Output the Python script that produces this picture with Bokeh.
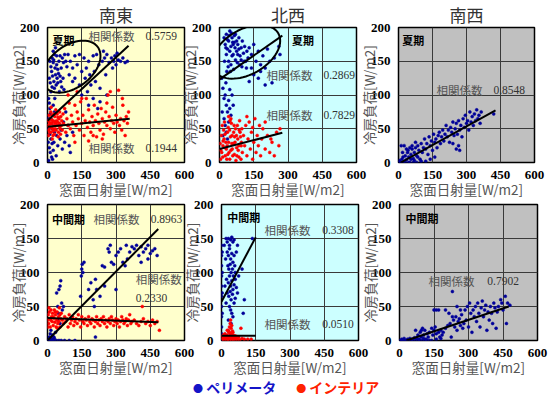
import math
from bokeh.plotting import figure
from bokeh.layouts import column, row
from bokeh.models import Div, FixedTicker, Range1d
from bokeh.core.properties import value
from bokeh.embed import file_html
from bokeh.resources import INLINE

# ---------------- data ----------------
titles = ["南東", "北西", "南西"]
seasons = ["夏期", "中間期"]
x_ticks = [0, 150, 300, 450, 600]
y_ticks = [0, 50, 100, 150, 200]
x_label = "窓面日射量[W/m2]"
y_label = "冷房負荷[W/m2]"
corr_label = "相関係数"
legend_labels = ["ペリメータ", "インテリア"]

# 南東 夏期
se_summer_peri = [
    (10,150),(15,142),(20,155),(25,148),(30,160),(18,135),(22,128),(28,120),(35,130),(40,145),
    (45,138),(12,118),(30,110),(38,115),(42,125),(50,150),(55,158),(48,132),(60,140),(65,155),
    (70,148),(75,160),(80,150),(85,142),(90,160),(58,120),(62,112),(68,125),(72,108),(25,165),
    (35,170),(40,158),(52,105),(15,105),(8,125),(20,112),(45,118),(33,140),(27,152),(55,128),
    (100,150),(110,140),(120,158),(130,145),(140,160),(150,135),(160,155),(165,125),(170,140),
    (180,150),(190,115),(200,158),(205,135),(210,120),(215,160),(225,145),(230,110),(240,150),
    (250,155),(255,130),(260,160),(270,148),(280,155),(290,150),(295,158),(300,145),(305,162),
    (310,152),(320,150),(330,155),(340,148),(350,150),(285,140),(245,165),(185,130),(120,125),
    (95,130),(150,100),(175,105),(200,95),(230,90),(260,100),(220,80),(180,85),(140,115),(110,120),
    (5,95),(8,88),(10,80),(12,72),(15,65),(18,58),(5,50),(10,42),(15,35),(20,28),(8,22),(12,15),
    (18,8),(5,3),(22,5),(25,18),(28,30),(30,45),(20,50),(25,85),(30,75),(35,60),(32,95),(40,40),
    (45,25),(38,10),(50,55),(55,35),(60,48),(65,20),(75,30),(85,40),(95,25),(100,15),(70,60),
    (80,75),(90,55),(110,45),(3,30),(3,65)]
se_summer_inter = [
    (2,55),(5,48),(8,60),(10,52),(12,65),(15,45),(18,58),(20,70),(22,50),(25,62),(28,55),(30,42),
    (32,68),(35,58),(38,48),(40,62),(42,72),(45,55),(48,45),(50,65),(52,58),(55,50),(58,68),(60,55),
    (3,62),(6,70),(9,45),(14,75),(17,52),(24,40),(27,72),(33,50),(36,78),(44,60),(47,38),(53,75),
    (57,42),(62,62),(65,48),(68,72),(4,40),(11,57),(19,63),(26,47),(31,60),(39,55),(46,67),(54,53),
    (16,82),(21,35),
    (70,58),(75,80),(80,45),(85,65),(90,55),(95,88),(100,50),(105,70),(110,60),(115,40),(120,85),
    (125,55),(130,75),(135,65),(140,48),(145,90),(150,58),(155,70),(160,40),(165,62),(170,95),
    (175,52),(180,78),(185,60),(190,45),(195,68),(200,55),(205,85),(210,62),(215,38),(220,72),
    (225,58),(230,48),(235,80),(240,65),(245,42),(250,60),(255,75),(260,55),(265,100),(270,68),
    (275,50),(280,62),(285,82),(290,58),(295,45),(300,70),(305,60),(311,107),(315,55),(320,65),
    (325,48),(328,95),(335,62),(340,40),(345,68),(350,58),(355,75),(275,105),(260,88),(150,95),
    (120,30),(180,32),(240,35),(90,100),(130,105),(200,40),(330,85)]

# 北西 夏期
nw_summer_peri = [
    (20,185),(25,175),(30,190),(35,168),(40,180),(45,195),(50,172),(55,185),(60,160),(65,178),
    (70,190),(75,165),(80,175),(85,185),(90,158),(95,170),(100,180),(105,162),(110,172),(115,150),
    (120,165),(125,155),(30,160),(40,150),(50,145),(60,175),(70,152),(80,160),(45,165),(55,158),
    (35,182),(65,188),(75,180),(85,168),(95,152),(28,170),(42,188),(58,178),(68,170),(78,148),
    (88,145),(98,142),(108,150),(118,140),(38,142),(48,135),(62,138),(22,150),(32,135),(52,192),
    (130,170),(140,160),(150,175),(160,150),(170,165),(180,145),(190,158),(200,140),(210,168),
    (220,150),(240,155),(260,172),(265,160),(150,130),(170,125),(200,115),(230,118),(180,135),
    (140,140),(130,120),
    (10,125),(15,110),(20,95),(25,100),(30,85),(35,75),(40,92),(45,80),(50,70),(20,65),(25,55),
    (30,45),(35,35),(15,40),(40,60),(55,100),(60,85),(12,75),(28,118),(45,108)]
nw_summer_inter = [
    (5,5),(10,15),(15,25),(20,35),(25,10),(30,20),(35,45),(40,30),(45,5),(50,18),(55,40),(60,28),
    (65,12),(70,50),(75,22),(80,35),(85,8),(90,45),(95,25),(100,15),(8,40),(12,55),(18,48),(22,60),
    (28,30),(32,5),(38,52),(42,15),(48,38),(52,58),(58,10),(62,45),(68,30),(72,3),(78,55),(82,18),
    (88,62),(92,38),(98,50),(3,28),(6,18),(14,8),(24,42),(34,25),(44,48),(54,28),(64,55),(74,40),
    (84,25),(94,5),(16,32),(26,22),(36,12),(46,62),(56,20),(66,38),(76,10),(86,48),(96,30),(40,68),
    (50,65),
    (105,40),(110,25),(115,55),(120,10),(125,35),(130,60),(135,20),(140,45),(145,5),(150,30),
    (155,65),(160,15),(165,40),(170,25),(175,55),(180,10),(185,35),(190,50),(200,20),(210,40),
    (220,15),(230,30),(240,10),(250,45),(260,25),(265,50),(200,60),(120,68),(145,52),(225,35)]

# 南西 夏期
sw_summer_peri = [
    (0,0),(5,3),(10,0),(15,5),(20,8),(25,2),(30,10),(35,4),(40,15),(45,8),(50,0),(55,12),(60,20),
    (65,6),(70,15),(75,22),(80,10),(85,25),(90,18),(95,5),(100,28),(105,15),(110,22),(115,35),
    (120,20),(125,28),(130,12),(135,38),(140,25),(145,32),(150,18),(155,42),(160,30),(165,35),
    (170,22),(175,40),(180,45),(185,28),(190,38),(195,48),(200,32),(205,42),(210,55),(215,38),
    (220,48),(225,30),(230,52),(235,45),(240,60),(245,40),(250,50),(255,58),(260,42),(265,62),
    (270,48),(275,55),(280,38),(285,65),(290,52),(295,70),(300,58),(305,62),(310,48),(315,75),
    (320,60),(325,68),(330,55),(335,72),(340,62),(345,78),(350,65),(355,70),(360,58),(365,75),
    (420,72),(255,20),(265,25),(270,18),(240,28),(12,25),(25,25),(35,20),(50,22),(60,25),(75,30),
    (18,15),(42,18),(55,5),(70,3),(85,8),(100,2),(120,2),(140,5),(160,8),(30,0),(45,0),(65,0),(80,0)]

# 南東 中間期
se_mid_peri = [
    (0,0),(5,0),(10,0),(15,0),(20,0),(25,0),(30,0),(40,0),(50,0),(60,0),(75,0),(95,0),(120,0),
    (8,5),(12,10),(18,3),(22,8),(28,5),(35,12),(15,15),(30,3),
    (45,50),(50,75),(55,80),(58,88),(40,70),(62,55),(48,40),(65,45),(70,50),(45,30),(55,25),
    (145,65),(150,105),(152,112),(155,100),(160,115),(148,95),
    (180,75),(190,85),(200,60),(210,90),(215,75),(205,50),(210,5),(230,65),(250,80),
    (240,110),(250,108),(265,135),(270,130),(280,115),(290,112),(300,75),(300,125),(310,130),
    (320,135),(330,115),(340,110),(350,120),(360,130),(370,138),(380,135),(390,140),(400,125),
    (410,138),(420,130),(430,135),(440,140),(450,128),(460,132),(470,135),(480,125),(440,120),
    (410,115),(345,140),(275,140)]
se_mid_inter = [
    (0,30),(3,38),(5,25),(8,42),(10,32),(12,20),(15,45),(18,35),(20,28),(22,40),(25,22),(28,33),
    (30,45),(32,27),(35,38),(38,20),(40,30),(42,42),(45,25),(48,35),(50,28),(52,48),(55,20),(58,32),
    (60,40),(2,20),(6,48),(14,30),(24,35),(34,42),(44,18),(54,38),
    (65,30),(70,25),(75,35),(80,28),(85,32),(90,20),(95,38),(100,25),(105,30),(110,35),(115,22),
    (120,28),(125,32),(130,25),(135,38),(140,30),(145,20),(150,35),(155,28),(160,25),(165,32),
    (170,30),(175,22),(180,35),(185,28),(190,25),(195,32),(200,30),(205,20),(210,28),(215,35),
    (220,25),(225,30),(230,22),(235,32),(240,28),(245,35),(250,25),(255,30),(260,20),(265,28),
    (270,32),(275,25),(280,35),(285,30),(290,22),(295,28),(300,32),(305,25),(310,30),(315,20),
    (320,28),(325,35),(330,30),(335,25),(340,28),(345,32),(350,22),(355,30),(360,38),(365,25),
    (370,28),(380,30),(390,25),(400,22),(410,28),(415,50),(420,32),(430,25),(440,28),(450,22),
    (460,30),(470,25),(480,28),(490,15)]

# 北西 中間期
nw_mid_peri = [
    (0,140),(0,125),(0,110),(0,95),(0,80),(0,65),(0,50),(0,35),(0,20),(0,10),(0,0),(3,130),(3,100),
    (3,70),(3,40),(20,150),(25,145),(30,150),(35,140),(40,148),(45,152),(50,145),(25,130),(30,125),
    (35,135),(40,120),(45,128),(50,115),(55,125),(28,110),(32,105),(38,112),(42,100),(48,105),
    (52,95),(58,110),(22,90),(30,85),(35,95),(40,80),(45,88),(50,75),(55,82),(60,90),(65,78),
    (25,70),(32,65),(38,72),(42,60),(48,68),(55,55),(60,62),(70,70),(35,50),(40,45),(45,40),
    (50,35),(30,30),(42,25),(18,120),(15,80),(20,55),(60,100),(65,130),(75,95),(90,105),(95,40),
    (135,150),(100,60),(12,140),(55,148),(70,140)]
nw_mid_inter = [
    (0,5),(5,2),(8,8),(10,0),(12,4),(15,10),(18,3),(20,6),(22,0),(25,8),(28,2),(30,5),(32,12),
    (35,0),(38,6),(40,3),(42,9),(45,1),(48,5),(50,8),(52,2),(55,4),(58,7),(60,0),(62,3),(65,6),
    (70,2),(75,5),(80,1),(90,3),(100,2),(30,15),(35,20),(38,25),(40,30),(42,18),(45,22),(48,14),
    (35,12),(40,10),(85,18),(115,2),(130,2),(25,15),(50,12)]

# 南西 中間期
sw_mid_peri = [
    (0,0),(5,0),(10,0),(15,0),(20,0),(25,0),(30,0),(40,0),(50,0),(60,0),(70,0),(80,0),(90,0),
    (100,0),(110,0),(120,0),(130,0),(140,0),(10,2),(20,3),(35,2),(45,3),(55,2),(65,4),(75,3),
    (85,2),(95,5),(105,3),(115,2),(125,5),(160,2),(180,3),
    (70,15),(80,8),(90,12),(95,15),(100,18),(105,8),(110,15),(120,10),(130,12),(140,18),(145,8),
    (150,15),(155,20),(160,10),(170,12),(175,5),(180,15),(185,8),(190,12),(200,18),(210,22),
    (220,25),(225,5),(235,30),(240,20),(245,35),(250,15),(255,28),(260,32),(265,22),(270,38),
    (275,18),(280,25),(285,45),(290,30),(295,50),(300,20),(305,55),(310,40),(315,12),(320,45),
    (325,35),(330,50),(335,28),(340,55),(345,40),(350,20),(355,48),(360,58),(365,35),(370,45),
    (375,52),(380,15),(385,42),(390,30),(395,50),(400,40),(405,25),(410,55),(415,48),(420,18),
    (425,42),(430,50),(440,60),(445,55),(450,45),(460,65),(465,25),(470,55),(480,52),
    (150,45),(160,45),(170,45),(230,72),(200,45),(215,40),(230,35),(265,45),(250,50)]

# regression lines: [x_start, x_end, intercept, slope]
fit_se_summer_peri = [0, 355, 62.0, 0.313]
fit_se_summer_inter = [0, 360, 53.0, 0.0333]
fit_nw_summer_peri = [0, 275, 123.0, 0.236]
fit_nw_summer_inter = [0, 275, 20.0, 0.0873]
fit_sw_summer_peri = [10, 428, -1.9, 0.185]
fit_se_mid_peri = [0, 485, 0.0, 0.338]
fit_se_mid_inter = [0, 485, 33.0, -0.0124]
fit_nw_mid_peri = [0, 150, 57.0, 0.633]
fit_nw_mid_inter = [0, 150, 7.0, 0.0]
fit_sw_mid_peri = [30, 475, -3.4, 0.1124]

# correlation coefficients
corr_se_summer = ["0.5759", "0.1944"]
corr_nw_summer = ["0.2869", "0.7829"]
corr_sw_summer = ["0.8548"]
corr_se_mid = ["0.8963", "0.2330"]
corr_nw_mid = ["0.3308", "0.0510"]
corr_sw_mid = ["0.7902"]

# ---------------- styling ----------------
BLUE = "#000099"
RED = "#FF0000"
YELLOW = "#FFFFCC"
CYAN = "#CCFFFF"
GRAY = "#C0C0C0"
JP = "Noto Sans CJK JP"
BL = 64  # left border of every figure


def make_panel(bg, fw, fh, title=None, right=16):
    p = figure(frame_width=fw, frame_height=fh, x_range=Range1d(0, 600), y_range=Range1d(0, 200),
               output_backend="svg", toolbar_location=None, title=title,
               min_border_left=BL, min_border_right=right, min_border_top=30, min_border_bottom=44)
    p.background_fill_color = bg
    p.border_fill_color = None
    p.outline_line_color = "black"
    p.outline_line_width = 1.5
    p.xaxis.ticker = FixedTicker(ticks=x_ticks)
    p.yaxis.ticker = FixedTicker(ticks=y_ticks)
    p.xgrid.ticker = FixedTicker(ticks=x_ticks)
    p.ygrid.ticker = FixedTicker(ticks=y_ticks)
    p.grid.grid_line_color = "#3a3a3a"
    p.grid.grid_line_width = 1
    p.xaxis.axis_label = x_label
    p.yaxis.axis_label = y_label
    for ax in (p.xaxis[0], p.yaxis[0]):
        ax.major_label_text_font = "Liberation Serif"
        ax.major_label_text_font_style = "bold"
        ax.major_label_text_font_size = "13px"
        ax.major_label_text_color = "black"
        ax.axis_label_text_font = JP
        ax.axis_label_text_font_style = "normal"
        ax.axis_label_text_font_size = "13.5px"
        ax.axis_label_text_color = "#555555"
        ax.axis_line_color = None
        ax.major_tick_line_color = None
        ax.minor_tick_line_color = None
        ax.major_label_standoff = 2
    p.yaxis.axis_label_standoff = -11
    p.xaxis.axis_label_standoff = -3
    if title:
        p.title.text_font = JP
        p.title.text_font_size = "17px"
        p.title.text_font_style = "normal"
        p.title.text_color = "#333333"
        p.title.align = "center"
        p.title.standoff = 2
    return p


def add_points(p, pts, color):
    p.scatter(x=[a for a, b in pts], y=[b for a, b in pts], marker="circle", size=3.0,
              fill_color=color, line_color=color, line_width=0.5)


def add_fit(p, fit):
    x0, x1, b, m = fit
    p.line(x=[x0, x1], y=[b + m * x0, b + m * x1], line_color="black", line_width=2)


def add_season(p, text, x, y):
    p.text(x=[x], y=[y], text=[text], text_font=value(JP), text_font_style="bold",
           text_font_size="11px", text_color="black", text_baseline="middle", text_align="left")


def add_corr(p, x_lab, x_val, y, val):
    p.text(x=[x_lab], y=[y], text=[corr_label], text_font=value(JP), text_font_size="11.5px",
           text_color="#555555", text_baseline="middle", text_align="left")
    p.text(x=[x_val], y=[y], text=[val], text_font=value("Liberation Serif"), text_font_size="11.5px",
           text_color="#333333", text_baseline="middle", text_align="left")


def add_ellipse(p, fw, fh, cx, cy, a_px, b_px, deg):
    # outline of a tilted ellipse given in screen pixels, converted to data units
    th = math.radians(deg)
    sx = 600.0 / fw
    sy = 200.0 / fh
    xs, ys = [], []
    for k in range(73):
        t = 2 * math.pi * k / 72
        dx = a_px * math.cos(t) * math.cos(th) - b_px * math.sin(t) * math.sin(th)
        dy = a_px * math.cos(t) * math.sin(th) + b_px * math.sin(t) * math.cos(th)
        xs.append(cx + dx * sx)
        ys.append(cy + dy * sy)
    p.line(x=xs, y=ys, line_color="black", line_width=2)


# 南東 夏期
f1 = make_panel(YELLOW, 137, 135, titles[0])
add_points(f1, se_summer_peri, BLUE)
add_points(f1, se_summer_inter, RED)
add_fit(f1, fit_se_summer_peri)
add_fit(f1, fit_se_summer_inter)
add_ellipse(f1, 137, 135, 104, 142, 33, 21, 37)
add_season(f1, seasons[0], 22, 182)
add_corr(f1, 180, 429, 188, corr_se_summer[0])
add_corr(f1, 180, 429, 22, corr_se_summer[1])

# 北西 夏期
f2 = make_panel(CYAN, 137, 135, titles[1])
add_points(f2, nw_summer_peri, BLUE)
add_points(f2, nw_summer_inter, RED)
add_fit(f2, fit_nw_summer_peri)
add_fit(f2, fit_nw_summer_inter)
add_ellipse(f2, 137, 135, 117, 164, 37, 22.5, 30)
add_season(f2, seasons[0], 318, 181)
add_corr(f2, 206, 455, 130, corr_nw_summer[0])
add_corr(f2, 206, 455, 71, corr_nw_summer[1])

# 南西 夏期
f3 = make_panel(GRAY, 136, 135, titles[2], right=14)
add_points(f3, sw_summer_peri, BLUE)
add_fit(f3, fit_sw_summer_peri)
add_season(f3, seasons[0], 16, 181)
add_corr(f3, 168, 419, 108, corr_sw_summer[0])

# 南東 中間期
f4 = make_panel(YELLOW, 137, 136)
add_points(f4, se_mid_peri, BLUE)
add_points(f4, se_mid_inter, RED)
add_fit(f4, fit_se_mid_peri)
add_fit(f4, fit_se_mid_inter)
add_season(f4, seasons[1], 20, 178)
add_corr(f4, 202, 452, 178, corr_se_mid[0])
f4.text(x=[386], y=[91], text=[corr_label], text_font=value(JP), text_font_size="11.5px",
        text_color="#555555", text_baseline="middle", text_align="left")
f4.text(x=[386], y=[63], text=[corr_se_mid[1]], text_font=value("Liberation Serif"),
        text_font_size="11.5px", text_color="#333333", text_baseline="middle", text_align="left")

# 北西 中間期
f5 = make_panel(CYAN, 137, 136)
add_points(f5, nw_mid_peri, BLUE)
add_points(f5, nw_mid_inter, RED)
add_fit(f5, fit_nw_mid_peri)
add_fit(f5, fit_nw_mid_inter)
add_season(f5, seasons[1], 25, 181)
add_corr(f5, 188, 441, 163, corr_nw_mid[0])
add_corr(f5, 188, 441, 25, corr_nw_mid[1])

# 南西 中間期
f6 = make_panel(GRAY, 138, 136, right=11)
add_points(f6, sw_mid_peri, BLUE)
add_fit(f6, fit_sw_mid_peri)
add_season(f6, seasons[1], 26, 180)
add_corr(f6, 126, 382, 88, corr_sw_mid[0])

# overlapping placement (frames at x = 47/219/398 and 47/221/399)
f1.margin = (0, 0, 0, 47 - BL)
f2.margin = (0, 0, 0, (219 - BL) - 200)
f3.margin = (0, 0, 0, (398 - BL) - 372)
f4.margin = (0, 0, 0, 47 - BL)
f5.margin = (0, 0, 0, (221 - BL) - 200)
f6.margin = (0, 0, 0, (399 - BL) - 374)

legend_html = (
    '<div style="margin-left:193px;white-space:nowrap;font-family:\'Noto Sans CJK JP\';'
    'font-weight:bold;font-size:14px;line-height:20px">'
    '<span style="color:#1414c8"><span style="font-size:10px">●</span> ' + legend_labels[0] + '</span>'
    '<span style="display:inline-block;width:20px"></span>'
    '<span style="color:#ff2200"><span style="font-size:10px">●</span> ' + legend_labels[1] + '</span>'
    '</div>')
legend = Div(text=legend_html, width=548, height=22, margin=(-7, 0, 0, 0))

r1 = row(f1, f2, f3, margin=(-3, 0, 0, 0))
r2 = row(f4, f5, f6, margin=(-32, 0, 0, 0))
layout = column(r1, r2, legend)

open("out.html", "w").write(file_html(layout, INLINE))
